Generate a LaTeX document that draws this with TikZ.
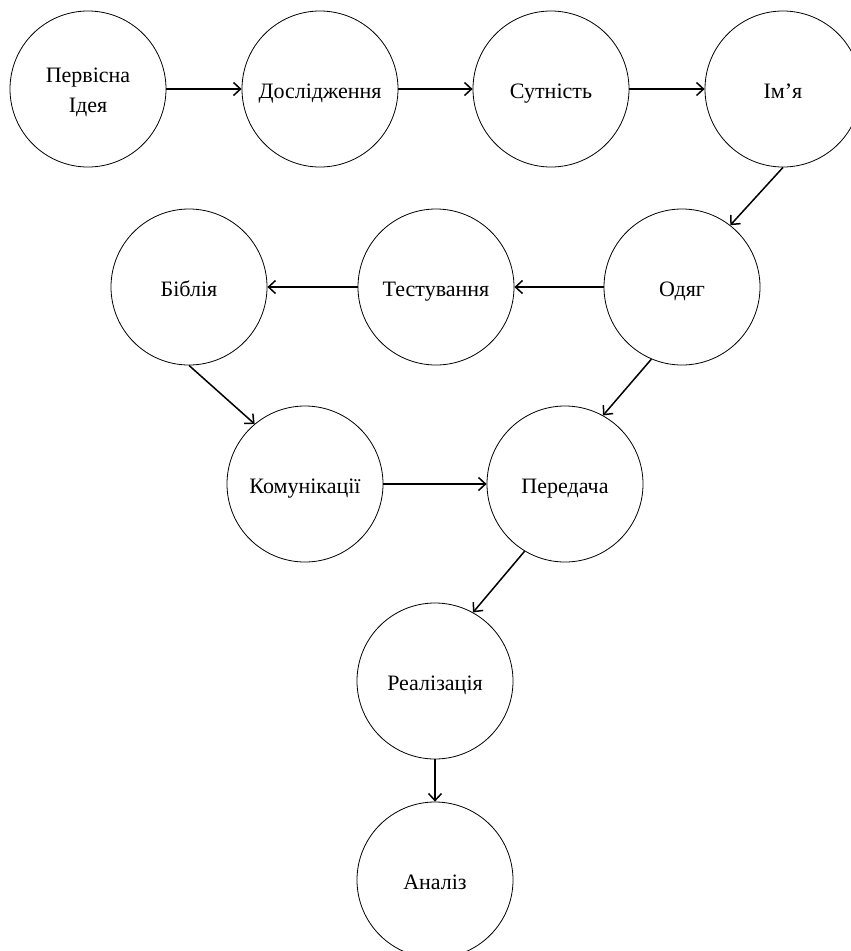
\documentclass[tikz,border=0pt]{standalone}
\usepackage{fontspec}
\setmainfont{Liberation Serif}
\usetikzlibrary{arrows.meta}
\begin{document}
\begin{tikzpicture}[x=1pt,y=-1pt,
  stage/.style={circle,draw,line width=0.8pt,minimum size=156pt,inner sep=0pt,text height=18pt,text depth=0pt,font=\fontsize{22}{30}\selectfont},
  stagetext/.style={align=center,inner sep=0pt,font=\fontsize{22}{30}\selectfont},
  conn/.style={line width=1.5pt,-{Straight Barb[length=7pt,width=13pt,line width=1.5pt]}}]
\useasboundingbox (0,0) rectangle (851,951);
\clip (0,0) rectangle (851,951);
\node[stage] (idea) at (88,89) {};
\node[stagetext] (idealbl) at (88,92.5) {Первісна\\Ідея};
\node[stage] (res) at (320,89) {Дослідження};
\node[stage] (ess) at (551,89) {Сутність};
\node[stage] (name) at (783,89) {Ім’я};
\node[stage] (cloth) at (682,287) {Одяг};
\node[stage] (test) at (436,287) {Тестування};
\node[stage] (bible) at (189,287) {Біблія};
\node[stage] (comm) at (305,484) {Комунікації};
\node[stage] (trans) at (565,484) {Передача};
\node[stage] (real) at (435,681) {Реалізація};
\node[stage] (anal) at (435,880) {Аналіз};
\draw[conn] (idea) -- (res);
\draw[conn] (res) -- (ess);
\draw[conn] (ess) -- (name);
\draw[conn] (name.south) -- (cloth.52);
\draw[conn] (cloth) -- (test);
\draw[conn] (test) -- (bible);
\draw[conn] (bible.south) -- (comm.130);
\draw[conn] (cloth.247) -- (trans.61);
\draw[conn] (comm) -- (trans);
\draw[conn] (trans.239) -- (real.61);
\draw[conn] (real) -- (anal);
\end{tikzpicture}
\end{document}
